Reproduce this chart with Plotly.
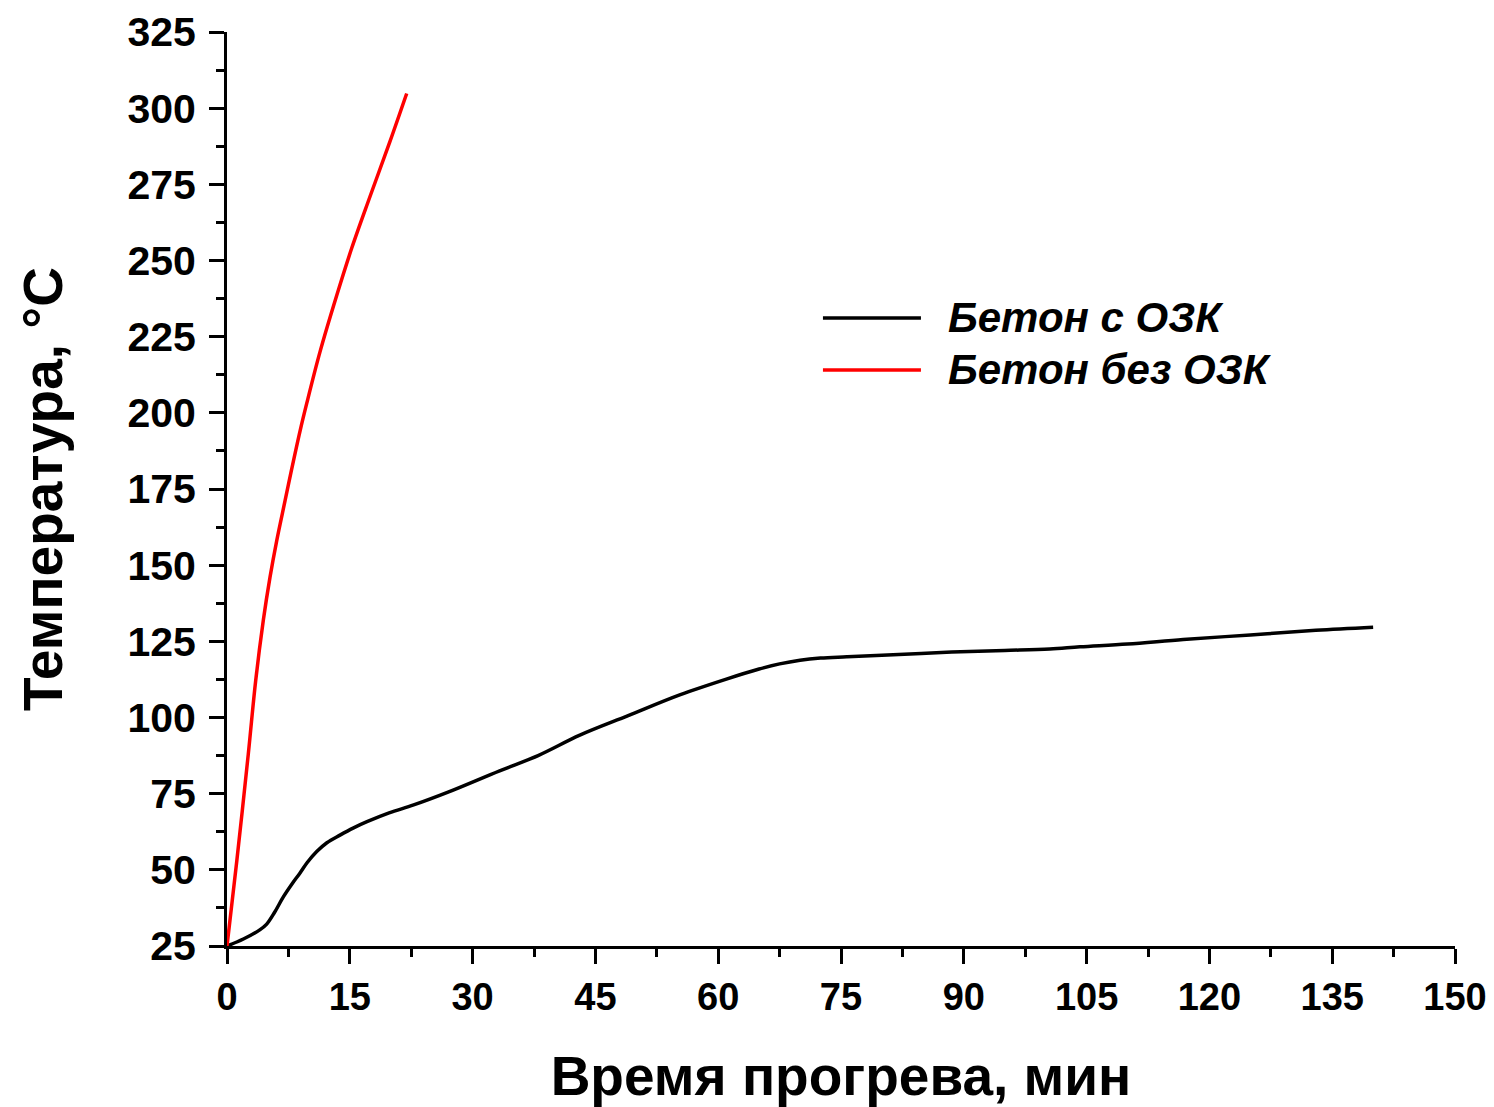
import plotly.graph_objects as go

# Data
black_name = "Бетон с ОЗК"
black_t = [0, 2.0, 4.0, 4.85, 5.8, 6.9, 8.0, 8.9, 9.8, 10.96, 12.2, 13.8, 15.4, 17.1, 19.8, 22.8,
           27.0, 33.3, 38.0, 43.1, 49.0, 55.3, 61.0, 65.0, 67.5, 70.0, 72.5, 75.7, 80.0,
           87.9, 95.0, 100.5, 104.2, 110.0, 116.8, 125.0, 133.0, 140.0]
black_T = [25, 27.3, 30.3, 32.2, 36.0, 41.2, 45.6, 48.9, 52.4, 56.0, 58.9, 61.4, 63.7, 65.8, 68.7, 71.3,
           75.5, 82.5, 87.5, 94.2, 100.6, 107.4, 112.6, 115.9, 117.6, 118.8, 119.5, 119.9, 120.4,
           121.4, 122.0, 122.5, 123.2, 124.1, 125.6, 127.1, 128.6, 129.6]

red_name = "Бетон без ОЗК"
red_t = [0, 1.2, 2.6, 3.5, 4.44, 5.25, 6.07, 7.08, 7.9, 8.92, 9.73, 11.36, 13.4, 15.23,
         17.47, 19.9, 21.95]
red_T = [25, 53, 88, 112, 132.0, 146.0, 158.0, 171.0, 181.5, 194.0, 203.0, 220.0, 238.5,
         254.0, 271.0, 289.0, 304.8]

x_ticks = [0, 15, 30, 45, 60, 75, 90, 105, 120, 135, 150]
y_ticks = [25, 50, 75, 100, 125, 150, 175, 200, 225, 250, 275, 300, 325]

x_title = "Время прогрева, мин"
y_title = "Температура, °C"

FONT = "Liberation Sans, Arial, sans-serif"

fig = go.Figure()
fig.add_trace(go.Scatter(x=black_t, y=black_T, mode="lines", name=black_name,
                         line=dict(color="#000000", width=3.5, shape="spline", smoothing=1.0),
                         showlegend=False))
fig.add_trace(go.Scatter(x=red_t, y=red_T, mode="lines", name=red_name,
                         line=dict(color="#ff0000", width=3.5, shape="spline", smoothing=1.0),
                         showlegend=False))

# Legend drawn as keys + labels (long key lines as in the reference)
legend_items = [(black_name, "#000000", 0.6871), (red_name, "#ff0000", 0.6302)]
for name, color, yp in legend_items:
    fig.add_shape(type="line", xref="paper", yref="paper", x0=0.4853, x1=0.5651, y0=yp, y1=yp,
                  line=dict(color=color, width=3.5))
    fig.add_annotation(xref="paper", yref="paper", x=0.5855, y=yp, text=f"<i>{name}</i>",
                       showarrow=False, xanchor="left", yanchor="middle",
                       font=dict(family=FONT, size=42, color="#000000", weight="bold"))

# The page body adds an 8px margin, so the figure is sized to fit the window
fig.update_layout(
    width=1486, height=1099,
    margin=dict(l=219, r=39, t=24, b=161),
    paper_bgcolor="white", plot_bgcolor="white",
    font=dict(family=FONT, color="#000000"),
)

fig.update_xaxes(
    range=[0, 150], tickvals=x_ticks, ticktext=[str(v) for v in x_ticks],
    automargin=False,
    showgrid=False, zeroline=False, showline=True, linecolor="#000000", linewidth=3,
    ticks="outside", ticklen=15, tickwidth=3, tickcolor="#000000",
    minor=dict(dtick=7.5, tick0=0, ticks="outside", ticklen=8, tickwidth=3, tickcolor="#000000"),
    tickfont=dict(family=FONT, size=38, color="#000000", weight="bold"),
    title=dict(text=x_title, standoff=44,
               font=dict(family=FONT, size=55, color="#000000", weight="bold")),
)
fig.update_yaxes(
    range=[25, 325], tickvals=y_ticks, ticktext=[str(v) for v in y_ticks],
    automargin=False, ticklabelstandoff=5,
    showgrid=False, zeroline=False, showline=True, linecolor="#000000", linewidth=3,
    ticks="outside", ticklen=15, tickwidth=3, tickcolor="#000000",
    minor=dict(dtick=12.5, tick0=25, ticks="outside", ticklen=8, tickwidth=3, tickcolor="#000000"),
    tickfont=dict(family=FONT, size=41, color="#000000", weight="bold"),
    title=dict(text=y_title, standoff=48,
               font=dict(family=FONT, size=55, color="#000000", weight="bold")),
)

fig.write_html("out.html")
